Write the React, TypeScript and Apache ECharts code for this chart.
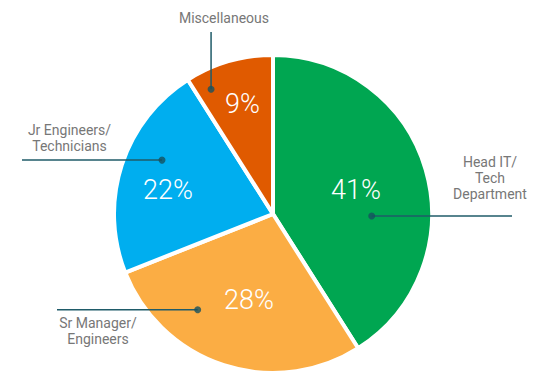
import React, { useEffect, useRef } from 'react';
import * as echarts from 'echarts';

// ---- data ----
const categories = ['Head IT/ Tech Department', 'Sr Manager/ Engineers', 'Jr Engineers/ Technicians', 'Miscellaneous'];
const labelTexts = ['Head IT/\nTech\nDepartment', 'Sr Manager/\nEngineers', 'Jr Engineers/\nTechnicians', 'Miscellaneous'];
const shares = [41, 28, 22, 9];
const colors = ['#00a651', '#fbad44', '#00aeef', '#e05a00'];

// ---- layout (not data) ----
const CX = 273;
const CY = 214;
const R = 159;
// percent label placement: [fraction of radius, angle clockwise from top]
const pctPos = [[0.543, 73.9], [0.562, 195.6], [0.677, 282.9], [0.717, 344.5]];
// leader dot placement: [fraction of radius, angle clockwise from top]
const dotPos = [[0.621, 91.2], [0.766, 218.2], [0.776, 295.9], [0.876, 333.6]];
// name label centers
const namePos = [[490, 178], [98, 331], [69.5, 138], [224, 18]];
// leader line end: direction + coordinate
const leaderEnd: [string, number][] = [['h', 512], ['h', 57], ['h', 22], ['v', 32]];

const toXY = (f: number, a: number) => {
  const rad = (a * Math.PI) / 180;
  return [CX + R * f * Math.sin(rad), CY - R * f * Math.cos(rad)];
};

export default function App() {
  const ref = useRef<HTMLDivElement>(null);
  useEffect(() => {
    if (!ref.current) return;
    const chart = echarts.init(ref.current, null, { renderer: 'svg' });
    const pieData = categories.map((name, i) => ({
      name,
      value: shares[i],
      itemStyle: { color: colors[i] },
    }));
    chart.setOption({
      animation: false,
      backgroundColor: '#ffffff',
      polar: { center: [CX, CY], radius: R },
      angleAxis: { type: 'value', min: 0, max: 360, startAngle: 90, clockwise: true, show: false },
      radiusAxis: { type: 'value', min: 0, max: 1, show: false },
      series: [
        {
          type: 'pie',
          z: 2,
          center: [CX, CY],
          radius: R,
          startAngle: 90,
          clockwise: true,
          silent: true,
          avoidLabelOverlap: false,
          itemStyle: { borderColor: '#ffffff', borderWidth: 4 },
          label: {
            show: true,
            position: 'inside',
            formatter: (p: any) => `${p.value}%`,
            color: '#ffffff',
            fontSize: 27,
            fontWeight: 300,
            fontFamily: 'Roboto',
          },
          labelLine: { show: false },
          labelLayout: (p: any) => {
            const [x, y] = toXY(pctPos[p.dataIndex][0], pctPos[p.dataIndex][1]);
            return { x, y, align: 'center', verticalAlign: 'middle' };
          },
          data: pieData,
        },
        {
          type: 'pie',
          z: 6,
          center: [CX, CY],
          radius: R,
          startAngle: 90,
          clockwise: true,
          silent: true,
          avoidLabelOverlap: false,
          itemStyle: { color: 'rgba(0,0,0,0)', borderWidth: 0 },
          label: {
            show: true,
            position: 'outside',
            formatter: (p: any) => labelTexts[p.dataIndex],
            color: '#777777',
            fontSize: 14,
            lineHeight: 16,
            fontFamily: 'Roboto',
            align: 'center',
          },
          labelLine: {
            show: true,
            length: 10,
            length2: 10,
            smooth: false,
            lineStyle: { color: '#1f5b69', width: 1.5 },
          },
          labelLayout: (p: any) => {
            const i = p.dataIndex;
            const [dx, dy] = toXY(dotPos[i][0], dotPos[i][1]);
            const [dir, c] = leaderEnd[i];
            const end = dir === 'h' ? [c, dy] : [dx, c];
            const mid = [(dx + end[0]) / 2, (dy + end[1]) / 2];
            return {
              x: namePos[i][0],
              y: namePos[i][1],
              align: 'center',
              verticalAlign: 'middle',
              labelLinePoints: [[dx, dy], mid, end],
            };
          },
          data: categories.map((name, i) => ({ name, value: shares[i] })),
        },
        {
          type: 'scatter',
          coordinateSystem: 'polar',
          silent: true,
          z: 10,
          symbol: 'circle',
          symbolSize: 7,
          itemStyle: { color: '#17515f' },
          data: dotPos.map(([f, a]) => [f, a]),
        },
      ],
    });
    return () => chart.dispose();
  }, []);
  return (
    <div
      ref={ref}
      style={{ position: 'fixed', left: 0, top: 0, width: 550, height: 384 }}
    />
  );
}
